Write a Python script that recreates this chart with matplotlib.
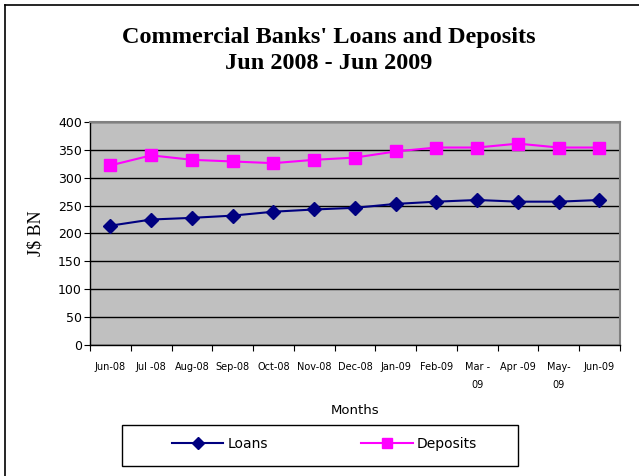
import matplotlib.pyplot as plt
from matplotlib.lines import Line2D
from matplotlib.patches import Rectangle
from matplotlib.ticker import FixedLocator

months = ['Jun-08', 'Jul -08', 'Aug-08', 'Sep-08', 'Oct-08', 'Nov-08', 'Dec-08',
          'Jan-09', 'Feb-09', 'Mar -\n09', 'Apr -09', 'May-\n09', 'Jun-09']
loans = [214, 225, 228, 232, 239, 243, 246, 253, 257, 260, 257, 257, 260]
deposits = [322, 340, 332, 329, 326, 332, 336, 347, 354, 354, 361, 354, 354]

fig = plt.figure(figsize=(6.39, 4.76), dpi=100)
ax = fig.add_axes([0.141, 0.275, 0.829, 0.469])
ax.set_facecolor('#C0C0C0')

x = range(len(months))
ax.plot(x, loans, color='#000080', marker='D', markersize=7, linewidth=1.5, label='Loans')
ax.plot(x, deposits, color='#FF00FF', marker='s', markersize=9, linewidth=1.5, label='Deposits')

ax.set_ylim(0, 400)
ax.set_yticks(range(0, 401, 50))
ax.yaxis.grid(True, color='black', linewidth=1)
ax.set_axisbelow(True)
ax.tick_params(axis='y', labelsize=9, length=4, color='black', pad=2)

ax.set_xlim(-0.5, len(months) - 0.5)
ax.xaxis.set_major_locator(FixedLocator([i - 0.5 for i in range(len(months) + 1)]))
ax.xaxis.set_minor_locator(FixedLocator(list(x)))
ax.set_xticklabels([])
ax.set_xticklabels(months, minor=True, fontsize=7, linespacing=2.0, va='top')
ax.tick_params(axis='x', which='major', length=4, color='black')
ax.tick_params(axis='x', which='minor', length=0, pad=12)

for name, sp in ax.spines.items():
    sp.set_color('#808080')
    sp.set_linewidth(1.5)
ax.spines['left'].set_color('black')
ax.spines['left'].set_linewidth(1)
ax.spines['bottom'].set_color('black')
ax.spines['bottom'].set_linewidth(1)

ax.set_ylabel('J$ BN', fontfamily='Liberation Serif', fontsize=13, labelpad=10)
fig.text(0.555, 0.137, 'Months', ha='center', va='center', fontsize=9.5)

fig.text(0.515, 0.894, "Commercial Banks' Loans and Deposits\nJun 2008 - Jun 2009",
         ha='center', va='center', fontfamily='Liberation Serif', fontweight='bold',
         fontsize=17.5, linespacing=1.3)

# legend box drawn separately so the entries can sit off-centre like the original
fig.add_artist(Rectangle((0.191, 0.021), 0.620, 0.086, transform=fig.transFigure,
                         facecolor='white', edgecolor='black', linewidth=1))
handles = [Line2D([], [], color='#000080', marker='D', markersize=6, linewidth=1.5),
           Line2D([], [], color='#FF00FF', marker='s', markersize=7.5, linewidth=1.5)]
leg = fig.legend(handles, ['Loans', 'Deposits'], loc='center left', ncol=2,
                 bbox_to_anchor=(0.269, 0.067), fontsize=10, handlelength=3.7,
                 columnspacing=6.7, frameon=False, borderpad=0,
                 handletextpad=0.32, borderaxespad=0)

fig.add_artist(Line2D([0.008, 0.008], [0, 0.99], color='black', linewidth=1.2,
                      transform=fig.transFigure))
fig.add_artist(Line2D([0.008, 1], [0.99, 0.99], color='black', linewidth=1.2,
                      transform=fig.transFigure))

fig.savefig('out.png', dpi=100)
